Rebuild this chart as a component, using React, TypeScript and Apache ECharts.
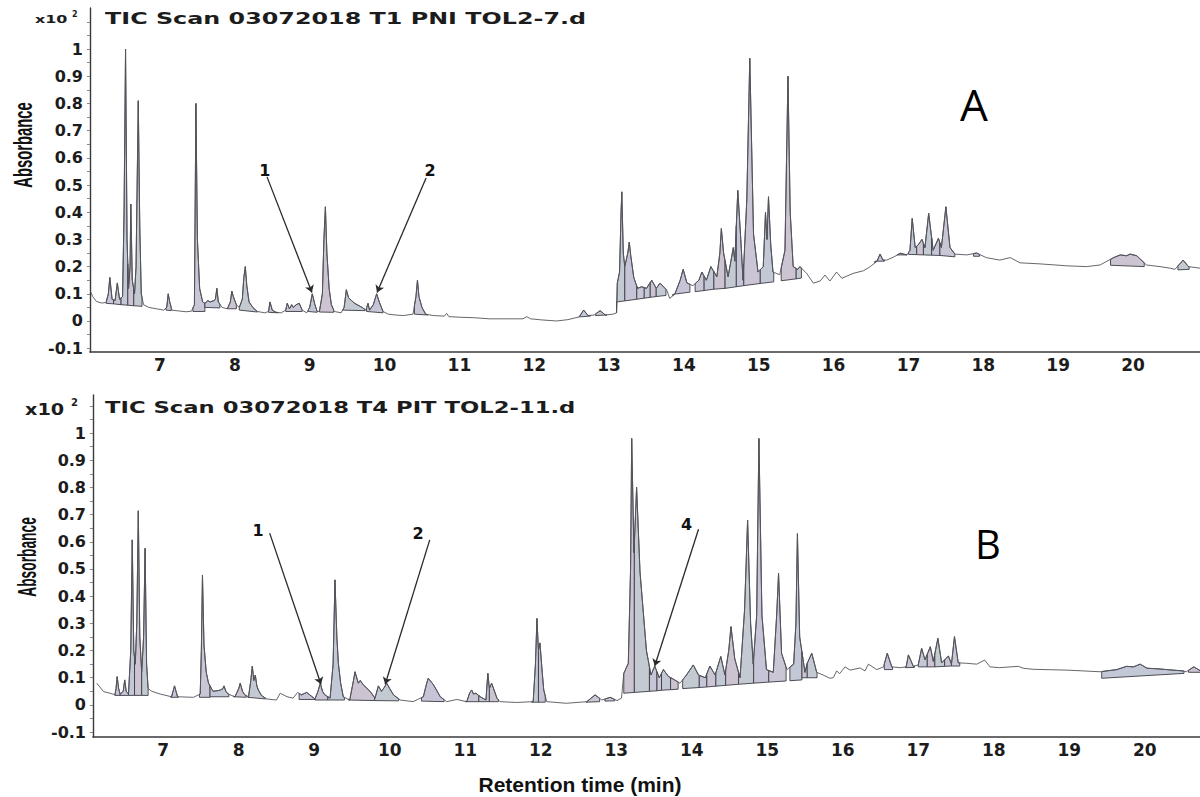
import React, { useEffect, useRef } from "react";
import * as echarts from "echarts";

// ---------- data ----------
const xTicks = [7, 8, 9, 10, 11, 12, 13, 14, 15, 16, 17, 18, 19, 20];
const yTicks = [-0.1, 0, 0.1, 0.2, 0.3, 0.4, 0.5, 0.6, 0.7, 0.8, 0.9, 1];
const yMinorTicks = [-0.1, -0.05, 0, 0.05, 0.1, 0.15, 0.2, 0.25, 0.3, 0.35, 0.4, 0.45, 0.5, 0.55, 0.6, 0.65, 0.7, 0.75, 0.8, 0.85, 0.9, 0.95, 1, 1.05, 1.1];

const titleA = "TIC Scan 03072018 T1 PNI TOL2-7.d";
const titleB = "TIC Scan 03072018 T4 PIT TOL2-11.d";

// trace A: [retention time (min), signal (x10^2)]
const traceA: [number, number][] = [
  [6.07, 0.11], [6.1, 0.09], [6.15, 0.072], [6.22, 0.066], [6.28, 0.068], [6.31, 0.1], [6.33, 0.16], [6.36, 0.08],
  [6.4, 0.075], [6.43, 0.14], [6.46, 0.08], [6.5, 0.09], [6.52, 0.4], [6.54, 1.0], [6.56, 0.3], [6.58, 0.12],
  [6.6, 0.2], [6.61, 0.43], [6.63, 0.15], [6.66, 0.1], [6.68, 0.2], [6.71, 0.81], [6.73, 0.35], [6.75, 0.1],
  [6.78, 0.06], [6.85, 0.05], [6.95, 0.045], [7.05, 0.04], [7.09, 0.05], [7.11, 0.1], [7.13, 0.07], [7.16, 0.04],
  [7.25, 0.037], [7.35, 0.034], [7.42, 0.036], [7.46, 0.06], [7.48, 0.8], [7.5, 0.3], [7.53, 0.12], [7.57, 0.07],
  [7.6, 0.065], [7.64, 0.075], [7.67, 0.07], [7.72, 0.075], [7.74, 0.08], [7.76, 0.12], [7.78, 0.07], [7.83, 0.05],
  [7.9, 0.045], [7.94, 0.07], [7.96, 0.11], [7.98, 0.09], [8.02, 0.06], [8.06, 0.05], [8.1, 0.08], [8.12, 0.16],
  [8.14, 0.2], [8.16, 0.13], [8.19, 0.07], [8.24, 0.05], [8.3, 0.035], [8.4, 0.03], [8.45, 0.035], [8.47, 0.07],
  [8.5, 0.04], [8.55, 0.032], [8.62, 0.03], [8.68, 0.04], [8.7, 0.065], [8.73, 0.045], [8.76, 0.06], [8.78, 0.05],
  [8.82, 0.06], [8.86, 0.065], [8.9, 0.04], [8.96, 0.03], [9.0, 0.05], [9.035, 0.1], [9.07, 0.06], [9.1, 0.035],
  [9.13, 0.035], [9.17, 0.1], [9.19, 0.3], [9.21, 0.42], [9.23, 0.25], [9.26, 0.12], [9.29, 0.06], [9.33, 0.035],
  [9.42, 0.03], [9.46, 0.05], [9.49, 0.115], [9.52, 0.085], [9.6, 0.065], [9.7, 0.05], [9.75, 0.04], [9.78, 0.065],
  [9.8, 0.04], [9.85, 0.06], [9.895, 0.1], [9.93, 0.07], [9.98, 0.035], [10.05, 0.025], [10.15, 0.022], [10.25, 0.02],
  [10.38, 0.025], [10.42, 0.09], [10.44, 0.15], [10.46, 0.09], [10.5, 0.05], [10.55, 0.025], [10.65, 0.02], [10.8, 0.018],
  [10.83, 0.028], [10.86, 0.016], [11.0, 0.014], [11.2, 0.012], [11.4, 0.008], [11.7, 0.008], [11.85, 0.008], [11.9, 0.016],
  [11.95, 0.008], [12.1, 0.004], [12.3, 0.0], [12.45, 0.005], [12.6, 0.015], [12.66, 0.04], [12.72, 0.02], [12.8, 0.022],
  [12.88, 0.038], [12.95, 0.022], [13.05, 0.025], [13.1, 0.03], [13.11, 0.14], [13.14, 0.18], [13.16, 0.4], [13.17, 0.475],
  [13.19, 0.25], [13.21, 0.2], [13.25, 0.25], [13.27, 0.29], [13.29, 0.24], [13.33, 0.16], [13.38, 0.12], [13.435, 0.126],
  [13.5, 0.12], [13.57, 0.15], [13.63, 0.12], [13.68, 0.139], [13.77, 0.114], [13.81, 0.083], [13.88, 0.1], [13.95, 0.15],
  [13.99, 0.19], [14.04, 0.14], [14.12, 0.13], [14.2, 0.15], [14.24, 0.18], [14.3, 0.15], [14.36, 0.2], [14.44, 0.163],
  [14.48, 0.25], [14.5, 0.34], [14.53, 0.25], [14.59, 0.163], [14.66, 0.27], [14.68, 0.22], [14.72, 0.48], [14.76, 0.3],
  [14.79, 0.15], [14.84, 0.445], [14.88, 0.966], [14.93, 0.32], [14.99, 0.18], [15.06, 0.2], [15.09, 0.4], [15.11, 0.3],
  [15.13, 0.457], [15.16, 0.28], [15.19, 0.18], [15.28, 0.17], [15.35, 0.26], [15.39, 0.9], [15.42, 0.4], [15.46, 0.2],
  [15.52, 0.19], [15.55, 0.2], [15.64, 0.175], [15.73, 0.139], [15.82, 0.147], [15.885, 0.169], [15.95, 0.147], [16.04, 0.18],
  [16.11, 0.157], [16.26, 0.175], [16.4, 0.185], [16.49, 0.2], [16.58, 0.22], [16.62, 0.246], [16.66, 0.224], [16.71, 0.224],
  [16.8, 0.235], [16.89, 0.249], [16.98, 0.243], [17.02, 0.26], [17.05, 0.377], [17.09, 0.27], [17.13, 0.28], [17.18, 0.3],
  [17.22, 0.27], [17.27, 0.396], [17.33, 0.26], [17.4, 0.304], [17.44, 0.27], [17.5, 0.42], [17.555, 0.27], [17.62, 0.246],
  [17.78, 0.243], [17.91, 0.25], [18.04, 0.233], [18.22, 0.224], [18.36, 0.233], [18.49, 0.214], [18.76, 0.21], [19.11, 0.203],
  [19.38, 0.2], [19.56, 0.206], [19.74, 0.233], [19.83, 0.243], [19.915, 0.24], [19.96, 0.246], [20.05, 0.24], [20.18, 0.206],
  [20.36, 0.2], [20.5, 0.194], [20.56, 0.19], [20.67, 0.224], [20.74, 0.2], [20.9, 0.194],
];

// integrated peaks A: [start, end, baseline at start, baseline at end]
const peaksA: [number, number, number, number][] = [
  [6.28, 6.38, 0.065, 0.063], [6.38, 6.48, 0.063, 0.06], [6.48, 6.57, 0.06, 0.058], [6.57, 6.65, 0.058, 0.056],
  [6.65, 6.76, 0.056, 0.054], [7.08, 7.15, 0.04, 0.038], [7.44, 7.6, 0.035, 0.035], [7.6, 7.8, 0.05, 0.048],
  [7.9, 8.02, 0.045, 0.045], [8.06, 8.3, 0.04, 0.033], [8.45, 8.58, 0.032, 0.03], [8.68, 8.9, 0.035, 0.035],
  [8.98, 9.1, 0.035, 0.032], [9.13, 9.32, 0.033, 0.032], [9.44, 9.74, 0.04, 0.038], [9.76, 9.98, 0.035, 0.03],
  [10.4, 10.58, 0.025, 0.022], [12.6, 12.75, 0.015, 0.018], [12.82, 12.97, 0.02, 0.022], [13.1, 13.21, 0.07, 0.074],
  [13.21, 13.37, 0.074, 0.08], [13.37, 13.47, 0.08, 0.084], [13.47, 13.55, 0.084, 0.087], [13.55, 13.63, 0.087, 0.09],
  [13.63, 13.76, 0.09, 0.094], [13.85, 14.08, 0.098, 0.106], [14.15, 14.27, 0.108, 0.112], [14.27, 14.4, 0.112, 0.117],
  [14.4, 14.55, 0.117, 0.12], [14.55, 14.7, 0.12, 0.126], [14.7, 14.8, 0.126, 0.13], [14.8, 15.02, 0.13, 0.138],
  [15.02, 15.2, 0.138, 0.144], [15.3, 15.5, 0.148, 0.155], [15.5, 15.57, 0.155, 0.158], [16.55, 16.68, 0.22, 0.22],
  [16.85, 16.98, 0.243, 0.243], [17.0, 17.11, 0.245, 0.244], [17.11, 17.2, 0.244, 0.243], [17.2, 17.31, 0.243, 0.242],
  [17.31, 17.42, 0.242, 0.241], [17.42, 17.62, 0.241, 0.236], [17.87, 17.95, 0.238, 0.238], [19.7, 20.15, 0.205, 0.2],
  [20.6, 20.75, 0.188, 0.19],
];

// trace B
const traceB: [number, number][] = [
  [6.12, 0.08], [6.21, 0.049], [6.295, 0.043], [6.36, 0.037], [6.375, 0.06], [6.39, 0.104], [6.41, 0.06], [6.43, 0.04],
  [6.47, 0.05], [6.49, 0.092], [6.51, 0.05], [6.54, 0.04], [6.57, 0.2], [6.59, 0.607], [6.61, 0.2], [6.63, 0.15],
  [6.65, 0.3], [6.67, 0.714], [6.69, 0.25], [6.715, 0.12], [6.74, 0.25], [6.76, 0.576], [6.78, 0.15], [6.8, 0.06],
  [6.85, 0.05], [6.96, 0.04], [7.11, 0.03], [7.13, 0.05], [7.15, 0.07], [7.17, 0.05], [7.19, 0.03], [7.4, 0.028],
  [7.49, 0.04], [7.505, 0.2], [7.52, 0.478], [7.54, 0.22], [7.57, 0.12], [7.6, 0.08], [7.66, 0.05], [7.75, 0.054],
  [7.79, 0.06], [7.805, 0.07], [7.83, 0.05], [7.86, 0.04], [7.95, 0.03], [8.0, 0.06], [8.02, 0.08], [8.05, 0.05],
  [8.08, 0.037], [8.13, 0.03], [8.16, 0.09], [8.18, 0.143], [8.2, 0.09], [8.22, 0.11], [8.24, 0.07], [8.26, 0.055],
  [8.3, 0.035], [8.37, 0.022], [8.5, 0.018], [8.55, 0.043], [8.64, 0.03], [8.72, 0.025], [8.78, 0.046], [8.83, 0.037],
  [8.9, 0.046], [9.01, 0.022], [9.05, 0.05], [9.08, 0.08], [9.11, 0.05], [9.14, 0.037], [9.21, 0.025], [9.25, 0.15],
  [9.275, 0.46], [9.3, 0.25], [9.32, 0.153], [9.35, 0.08], [9.385, 0.03], [9.47, 0.018], [9.52, 0.09], [9.54, 0.122],
  [9.585, 0.08], [9.61, 0.09], [9.65, 0.074], [9.74, 0.05], [9.805, 0.025], [9.85, 0.07], [9.89, 0.05], [9.93, 0.065],
  [9.96, 0.08], [10.0, 0.06], [10.05, 0.037], [10.14, 0.018], [10.31, 0.012], [10.445, 0.03], [10.49, 0.08], [10.51, 0.098],
  [10.58, 0.074], [10.67, 0.03], [10.755, 0.012], [10.89, 0.02], [11.02, 0.012], [11.06, 0.045], [11.085, 0.055], [11.11, 0.04],
  [11.14, 0.043], [11.2, 0.03], [11.275, 0.018], [11.29, 0.08], [11.3, 0.116], [11.32, 0.06], [11.35, 0.08], [11.42, 0.025],
  [11.46, 0.012], [11.68, 0.009], [11.9, 0.012], [11.93, 0.15], [11.95, 0.318], [11.97, 0.2], [11.99, 0.228], [12.02, 0.12],
  [12.04, 0.055], [12.08, 0.012], [12.34, 0.006], [12.61, 0.012], [12.72, 0.037], [12.81, 0.018], [12.92, 0.028], [13.01, 0.016],
  [13.07, 0.025], [13.1, 0.116], [13.16, 0.153], [13.19, 0.5], [13.205, 0.98], [13.235, 0.56], [13.27, 0.8], [13.315, 0.49],
  [13.4, 0.2], [13.46, 0.11], [13.51, 0.143], [13.57, 0.1], [13.625, 0.13], [13.69, 0.105], [13.755, 0.095], [13.845, 0.08],
  [13.93, 0.11], [14.02, 0.147], [14.09, 0.11], [14.18, 0.1], [14.24, 0.143], [14.31, 0.11], [14.385, 0.178], [14.44, 0.11],
  [14.49, 0.2], [14.52, 0.288], [14.57, 0.17], [14.64, 0.1], [14.7, 0.35], [14.74, 0.68], [14.78, 0.3], [14.815, 0.15],
  [14.86, 0.33], [14.89, 0.98], [14.93, 0.33], [14.99, 0.13], [15.08, 0.12], [15.125, 0.33], [15.15, 0.484], [15.19, 0.19],
  [15.26, 0.13], [15.35, 0.15], [15.38, 0.3], [15.4, 0.63], [15.43, 0.25], [15.5, 0.12], [15.53, 0.153], [15.59, 0.19],
  [15.655, 0.12], [15.74, 0.11], [15.83, 0.098], [15.875, 0.1], [15.92, 0.125], [15.96, 0.115], [16.03, 0.14], [16.1, 0.128],
  [16.23, 0.136], [16.295, 0.125], [16.34, 0.15], [16.45, 0.13], [16.54, 0.14], [16.59, 0.19], [16.65, 0.14], [16.76, 0.137],
  [16.84, 0.14], [16.87, 0.184], [16.935, 0.142], [17.0, 0.147], [17.045, 0.208], [17.09, 0.166], [17.16, 0.214], [17.2, 0.16],
  [17.26, 0.245], [17.31, 0.155], [17.4, 0.18], [17.44, 0.15], [17.48, 0.251], [17.53, 0.155], [17.64, 0.153], [17.775, 0.15],
  [17.88, 0.165], [17.95, 0.14], [18.08, 0.137], [18.325, 0.142], [18.39, 0.135], [18.525, 0.131], [18.97, 0.128], [19.41, 0.122],
  [19.63, 0.13], [19.76, 0.142], [19.85, 0.14], [19.94, 0.15], [20.03, 0.135], [20.16, 0.133], [20.29, 0.13], [20.51, 0.125],
  [20.55, 0.122], [20.65, 0.14], [20.74, 0.125],
];

const peaksB: [number, number, number, number][] = [
  [6.36, 6.43, 0.035, 0.035], [6.43, 6.54, 0.035, 0.035], [6.54, 6.62, 0.035, 0.035], [6.62, 6.715, 0.035, 0.035],
  [6.715, 6.8, 0.035, 0.035], [7.1, 7.2, 0.028, 0.028], [7.48, 7.62, 0.028, 0.028], [7.62, 7.87, 0.03, 0.03],
  [7.93, 8.1, 0.03, 0.028], [8.12, 8.36, 0.028, 0.022], [8.8, 9.01, 0.02, 0.02], [9.01, 9.18, 0.018, 0.018],
  [9.18, 9.4, 0.018, 0.018], [9.45, 9.8, 0.018, 0.016], [9.8, 10.12, 0.016, 0.015], [10.42, 10.72, 0.014, 0.012],
  [11.0, 11.18, 0.012, 0.012], [11.18, 11.32, 0.012, 0.012], [11.32, 11.44, 0.012, 0.012], [11.88, 11.97, 0.01, 0.01],
  [11.97, 12.06, 0.01, 0.01], [12.6, 12.78, 0.01, 0.012], [12.85, 12.98, 0.014, 0.015], [13.1, 13.24, 0.043, 0.046],
  [13.24, 13.44, 0.046, 0.05], [13.44, 13.54, 0.05, 0.052], [13.54, 13.6, 0.052, 0.054], [13.6, 13.72, 0.054, 0.056],
  [13.72, 13.82, 0.056, 0.058], [13.88, 14.1, 0.06, 0.064], [14.1, 14.2, 0.064, 0.066], [14.2, 14.32, 0.066, 0.069],
  [14.32, 14.45, 0.069, 0.072], [14.45, 14.62, 0.072, 0.076], [14.62, 14.82, 0.076, 0.08], [14.82, 15.02, 0.08, 0.084],
  [15.02, 15.25, 0.084, 0.088], [15.3, 15.46, 0.089, 0.092], [15.46, 15.53, 0.1, 0.1], [15.53, 15.66, 0.1, 0.1],
  [16.55, 16.66, 0.13, 0.13], [16.83, 16.95, 0.137, 0.138], [17.0, 17.12, 0.14, 0.14], [17.12, 17.22, 0.14, 0.14],
  [17.22, 17.35, 0.14, 0.142], [17.35, 17.44, 0.142, 0.143], [17.44, 17.55, 0.143, 0.143], [19.43, 20.52, 0.098, 0.116],
  [20.58, 20.74, 0.12, 0.12],
];

// annotation arrows: [from t, from v, to t, to v]
const arrowsA = [[8.43, 0.53, 9.03, 0.105], [10.555, 0.526, 9.9, 0.105]];
const arrowsB = [[8.41, 0.632, 9.09, 0.076], [10.53, 0.607, 9.94, 0.076], [14.09, 0.646, 13.51, 0.143]];
const labelsA: [string, number, number][] = [["1", 8.4, 0.555], ["2", 10.61, 0.555]];
const labelsB: [string, number, number][] = [["1", 8.255, 0.643], ["2", 10.375, 0.632], ["4", 13.93, 0.662]];

const peakFills = ["#c6c5d8", "#cbc6d6", "#c2c8d6", "#cdc4d2", "#c4cad2"];

function interp(trace: [number, number][], t: number): number {
  if (t <= trace[0][0]) return trace[0][1];
  for (let i = 1; i < trace.length; i++) {
    if (trace[i][0] >= t) {
      const [t0, v0] = trace[i - 1];
      const [t1, v1] = trace[i];
      return v0 + ((v1 - v0) * (t - t0)) / (t1 - t0);
    }
  }
  return trace[trace.length - 1][1];
}

function peakSeries(idx: number, trace: [number, number][], peaks: [number, number, number, number][]) {
  return {
    type: "custom",
    xAxisIndex: idx,
    yAxisIndex: idx,
    clip: true,
    z: 2,
    silent: true,
    data: peaks,
    encode: { x: [0, 1], y: [2, 3] },
    renderItem: (params: any, api: any) => {
      const t0 = api.value(0);
      const t1 = api.value(1);
      const b0 = api.value(2);
      const b1 = api.value(3);
      const pts: number[][] = [api.coord([t0, b0]), api.coord([t0, interp(trace, t0)])];
      for (const [t, v] of trace) if (t > t0 && t < t1) pts.push(api.coord([t, v]));
      pts.push(api.coord([t1, interp(trace, t1)]));
      pts.push(api.coord([t1, b1]));
      return {
        type: "polygon",
        shape: { points: pts },
        style: { fill: peakFills[params.dataIndex % peakFills.length], stroke: "#3c3c44", lineWidth: 0.9 },
      };
    },
  };
}

function traceSeries(idx: number, trace: [number, number][], arrows: number[][], labels: [string, number, number][]) {
  return {
    type: "line",
    xAxisIndex: idx,
    yAxisIndex: idx,
    data: trace,
    showSymbol: false,
    symbol: "none",
    z: 3,
    silent: true,
    lineStyle: { color: "#55555c", width: 0.9 },
    markLine: {
      silent: true,
      symbol: ["none", "arrow"],
      symbolSize: 7,
      lineStyle: { color: "#2a2a2a", width: 1.3, type: "solid" },
      label: { show: false },
      data: arrows.map((a) => [
        { coord: [a[0], a[1]], symbol: "none" },
        { coord: [a[2], a[3]], symbol: "arrow" },
      ]),
    },
    markPoint: {
      silent: true,
      symbol: "circle",
      symbolSize: 1,
      itemStyle: { color: "rgba(0,0,0,0)" },
      label: {
        show: true,
        position: "inside",
        formatter: "{b}",
        fontFamily: "DejaVu Sans",
        fontWeight: "bold",
        fontSize: 16,
        color: "#111",
      },
      data: labels.map((l) => ({ name: l[0], coord: [l[1], l[2]] })),
    },
  };
}

function xAxisCfg(idx: number, min: number, max: number) {
  return {
    type: "value",
    gridIndex: idx,
    min,
    max,
    axisLine: { show: true, onZero: false, lineStyle: { color: "#3a3a3a", width: 1.6 } },
    axisTick: { show: false },
    splitLine: { show: false },
    axisLabel: {
      customValues: xTicks,
      margin: 4,
      fontFamily: "DejaVu Sans",
      fontWeight: "bold",
      fontSize: 17,
      color: "#1c1c1c",
      formatter: (v: number) => String(v),
    },
  };
}

function yAxisCfg(idx: number, min: number, max: number) {
  return {
    type: "value",
    gridIndex: idx,
    min,
    max,
    axisLine: { show: true, onZero: false, lineStyle: { color: "#3a3a3a", width: 1.4 } },
    axisTick: { show: true, customValues: yMinorTicks, length: 3, lineStyle: { color: "#888" } },
    splitLine: { show: false },
    axisLabel: {
      customValues: yTicks,
      margin: 7,
      fontFamily: "DejaVu Sans",
      fontWeight: "bold",
      fontSize: 16,
      color: "#1c1c1c",
      formatter: (v: number) => String(v),
    },
  };
}

export default function App() {
  const ref = useRef<HTMLDivElement>(null);
  useEffect(() => {
    if (!ref.current) return;
    const chart = echarts.init(ref.current, undefined, { renderer: "svg" });
    chart.setOption({
      animation: false,
      backgroundColor: "#ffffff",
      grid: [
        { left: 90, top: 8, width: 1110, height: 344 },
        { left: 93, top: 395, width: 1107, height: 342 },
      ],
      xAxis: [xAxisCfg(0, 6.065, 20.895), xAxisCfg(1, 6.07, 20.732)],
      yAxis: [yAxisCfg(0, -0.114, 1.151), yAxisCfg(1, -0.118, 1.14)],
      series: [
        peakSeries(0, traceA, peaksA),
        traceSeries(0, traceA, arrowsA, labelsA),
        peakSeries(1, traceB, peaksB),
        traceSeries(1, traceB, arrowsB, labelsB),
      ],
      graphic: [
        { type: "text", x: 105, y: 18, scaleX: 1.49, style: { text: titleA, font: 'bold 16px "DejaVu Sans"', fill: "#1c1c1c", verticalAlign: "middle" } },
        { type: "text", x: 105, y: 408, scaleX: 1.42, style: { text: titleB, font: 'bold 16px "DejaVu Sans"', fill: "#1c1c1c", verticalAlign: "middle" } },
        { type: "text", x: 35, y: 19, scaleX: 1.45, style: { text: "x10", font: 'bold 11px "DejaVu Sans"', fill: "#1c1c1c", verticalAlign: "middle" } },
        { type: "text", x: 72, y: 14, style: { text: "2", font: 'bold 8px "DejaVu Sans"', fill: "#1c1c1c", verticalAlign: "middle" } },
        { type: "text", x: 25, y: 410, scaleX: 1.28, style: { text: "x10", font: 'bold 15px "DejaVu Sans"', fill: "#1c1c1c", verticalAlign: "middle" } },
        { type: "text", x: 71, y: 402, style: { text: "2", font: 'bold 10px "DejaVu Sans"', fill: "#1c1c1c", verticalAlign: "middle" } },
        { type: "text", x: 23, y: 145, rotation: Math.PI / 2, scaleX: 0.57, style: { text: "Absorbance", font: 'bold 26px "Liberation Sans"', fill: "#111", align: "center", verticalAlign: "middle" } },
        { type: "text", x: 27, y: 557, rotation: Math.PI / 2, scaleX: 0.53, style: { text: "Absorbance", font: 'bold 26px "Liberation Sans"', fill: "#111", align: "center", verticalAlign: "middle" } },
        { type: "text", x: 974, y: 104, style: { text: "A", font: '44px "Open Sans"', fill: "#000", align: "center", verticalAlign: "middle" } },
        { type: "text", x: 988, y: 543, style: { text: "B", font: '40px "Open Sans"', fill: "#000", align: "center", verticalAlign: "middle" } },
        { type: "text", x: 580, y: 784, style: { text: "Retention time (min)", font: 'bold 21px "Liberation Sans"', fill: "#111", align: "center", verticalAlign: "middle" } },
      ],
    });
    return () => chart.dispose();
  }, []);
  return <div ref={ref} style={{ position: "absolute", left: 0, top: 0, width: 1200, height: 797, background: "#fff" }} />;
}
